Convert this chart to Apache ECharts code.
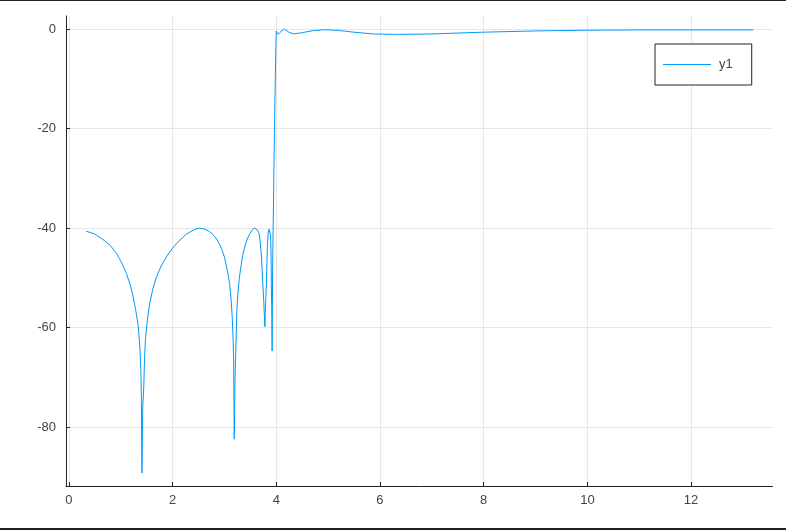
<!DOCTYPE html>
<html>
<head>
<meta charset="utf-8">
<script src="https://cdn.jsdelivr.net/npm/echarts@6/dist/echarts.min.js"></script>
<style>
html,body{margin:0;padding:0;background:#fff;}
#c{width:786px;height:530px;}
</style>
</head>
<body>
<div id="c"></div>
<script>
const seriesName = 'y1';
const xTicks = [0, 2, 4, 6, 8, 10, 12];
const yTicks = [0, -20, -40, -60, -80];
const xVals = [0.33,0.5,0.66,0.8,0.92,1.02,1.11,1.18,1.24,1.29,1.34,1.37,1.39,1.40,1.41,1.425,1.445,1.46,1.48,1.52,1.56,1.62,1.69,1.78,1.88,2.0,2.14,2.27,2.40,2.51,2.62,2.7,2.78,2.85,2.9,2.95,3.0,3.05,3.10,3.13,3.15,3.17,3.18,3.19,3.205,3.22,3.24,3.265,3.29,3.34,3.39,3.44,3.49,3.54,3.58,3.63,3.67,3.69,3.71,3.725,3.74,3.76,3.78,3.795,3.81,3.82,3.83,3.845,3.86,3.875,3.89,3.90,3.905,3.915,3.92,3.925,3.93,3.95,3.97,3.99,4.0,4.04,4.10,4.16,4.25,4.34,4.5,4.7,4.93,5.2,5.5,5.86,6.3,7.0,8.0,9.0,10.0,11.0,12.0,13.2];
const yVals = [-40.6,-41.2,-42.3,-43.5,-45.1,-47.0,-49.1,-51.3,-53.8,-56.5,-59.8,-64,-69,-75,-89.2,-76,-71.9,-66,-61.8,-58,-55.1,-52.2,-49.8,-47.6,-45.8,-44.0,-42.4,-41.2,-40.4,-40.0,-40.2,-40.6,-41.3,-42.2,-43.1,-44.3,-45.8,-48.2,-51.1,-54.5,-57.8,-63,-67.9,-82.4,-70,-64.5,-56.5,-52.5,-49.8,-46.2,-43.8,-42.2,-41.1,-40.3,-40.0,-40.3,-41.1,-42.8,-45.1,-48,-51.1,-55,-59.8,-55,-51.1,-47,-43.1,-41,-40.2,-40.6,-41.4,-46,-51.1,-58,-64.7,-56,-47.8,-32,-17,-5,-0.4,-1.1,-0.4,-0.05,-0.7,-1.0,-0.75,-0.35,-0.15,-0.3,-0.65,-1.0,-1.1,-1.0,-0.65,-0.4,-0.25,-0.2,-0.2,-0.2];

const data = xVals.map((x, i) => [x, yVals[i]]);
const font = 'Liberation Sans';
const chart = echarts.init(document.getElementById('c'), null, {renderer: 'canvas'});
chart.setOption({
  animation: false,
  backgroundColor: '#ffffff',
  grid: {left: 66, right: 13.5, top: 16, bottom: 44, containLabel: false},
  xAxis: {
    type: 'value', min: -0.055, max: 13.57,
    axisLine: {show: true, onZero: false, lineStyle: {color: '#222', width: 1}},
    axisTick: {show: true, inside: true, length: 4, customValues: xTicks, lineStyle: {color: '#222'}},
    axisLabel: {customValues: xTicks, color: '#444', fontFamily: font, fontSize: 13, margin: 8},
    splitLine: {show: true, lineStyle: {color: '#e6e6e6', width: 1}}
  },
  yAxis: {
    type: 'value', min: -91.8, max: 2.6,
    axisLine: {show: true, onZero: false, lineStyle: {color: '#222', width: 1}},
    axisTick: {show: true, inside: true, length: 4, customValues: yTicks, lineStyle: {color: '#222'}},
    axisLabel: {customValues: yTicks, color: '#444', fontFamily: font, fontSize: 13, margin: 10},
    splitLine: {show: true, lineStyle: {color: '#e6e6e6', width: 1}}
  },
  legend: {
    left: 655, top: 44,
    data: [{name: seriesName, icon: 'path://M0,0 L48,0 L48,1.2 L0,1.2 Z'}],
    orient: 'vertical',
    borderColor: '#222', borderWidth: 1,
    padding: [14, 19, 14, 8],
    itemWidth: 48, itemHeight: 14, itemGap: 0,
    symbolKeepAspect: true,
    itemStyle: {color: '#009AF9'},
    textStyle: {color: '#444', fontFamily: font, fontSize: 13, padding: [0, 0, 0, 3]},
    backgroundColor: '#fff'
  },
  series: [{
    name: seriesName, type: 'line', data: data, symbol: 'none',
    lineStyle: {color: '#009AF9', width: 1}, itemStyle: {color: '#009AF9'}
  }],
  graphic: [
    {type: 'rect', shape: {x: 0, y: 0, width: 786, height: 1}, style: {fill: '#222'}, silent: true},
    {type: 'rect', shape: {x: 0, y: 528, width: 786, height: 2}, style: {fill: '#222'}, silent: true}
  ]
});
</script>
</body>
</html>
